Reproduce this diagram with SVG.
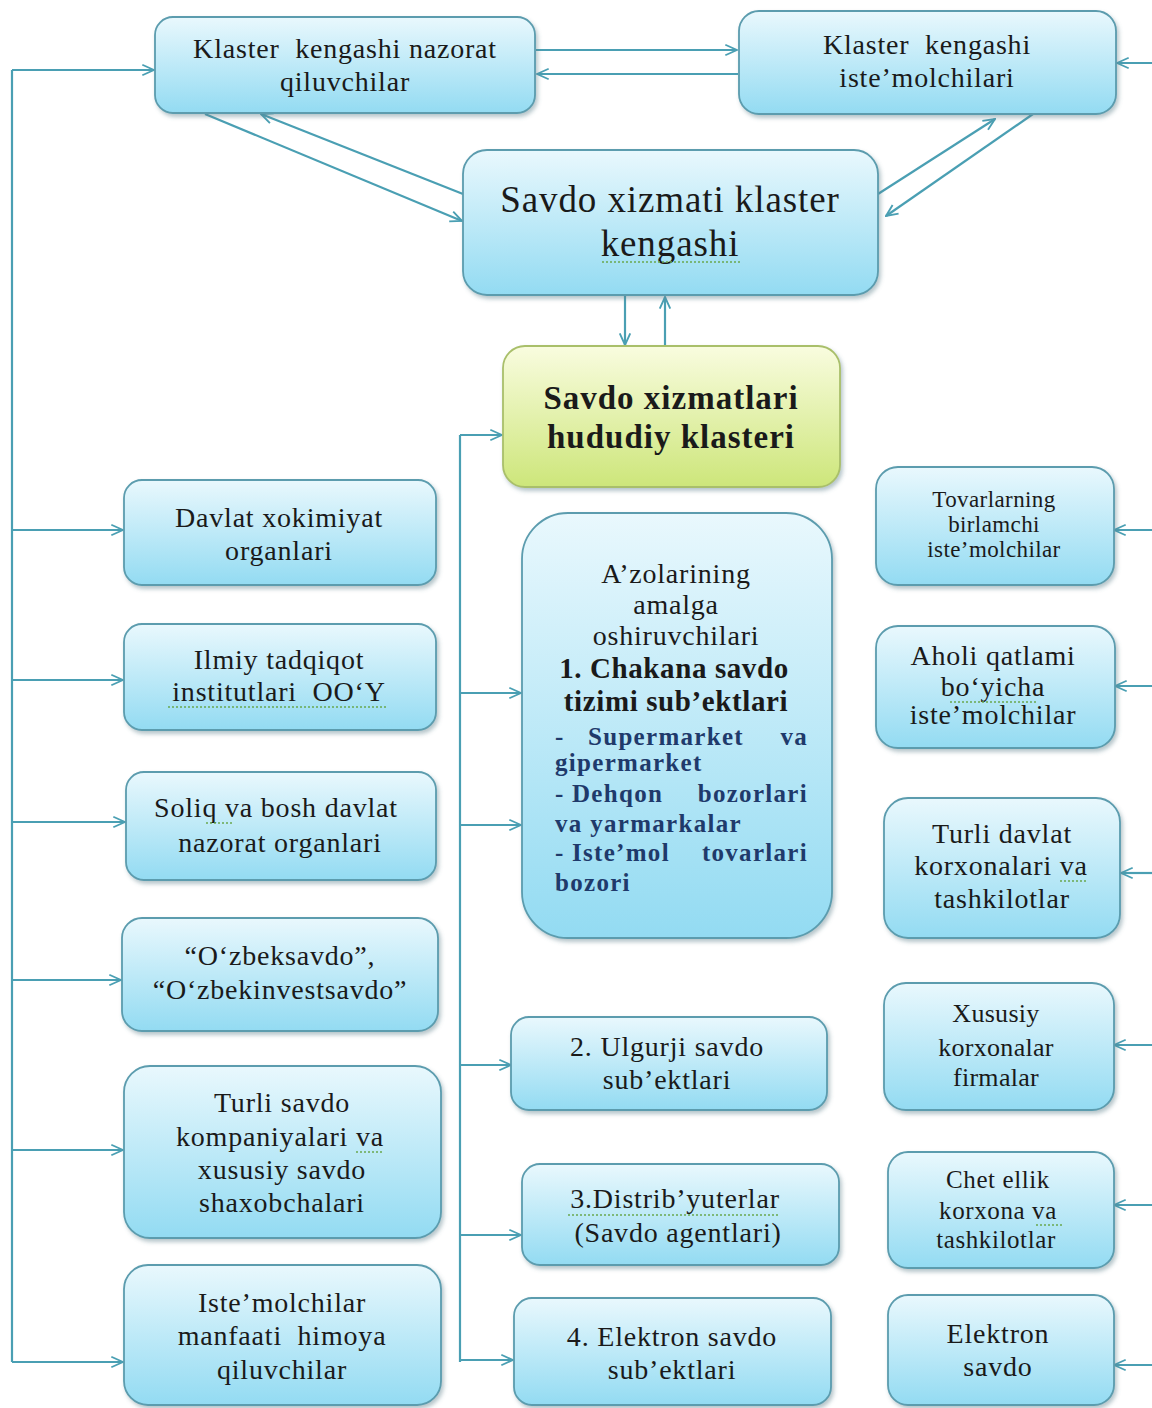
<svg xmlns="http://www.w3.org/2000/svg" width="1152" height="1408" viewBox="0 0 1152 1408">
<defs>
<linearGradient id="gb" x1="0" y1="0" x2="0" y2="1">
<stop offset="0" stop-color="#e9f8fd"/><stop offset="1" stop-color="#93dbf2"/>
</linearGradient>
<linearGradient id="gg" x1="0" y1="0" x2="0" y2="1">
<stop offset="0" stop-color="#f9fcdf"/><stop offset="1" stop-color="#cde67a"/>
</linearGradient>
<filter id="sh" x="-10%" y="-10%" width="125%" height="130%">
<feDropShadow dx="2" dy="3" stdDeviation="2.2" flood-color="#5a7f8a" flood-opacity="0.45"/>
</filter>
<marker id="a" viewBox="0 0 12 12" refX="11" refY="6" markerWidth="14" markerHeight="14" orient="auto" markerUnits="userSpaceOnUse">
<path d="M1,1.5 L11,6 L1,10.5" fill="none" stroke="#4a9fb3" stroke-width="1.6"/>
</marker>
</defs>
<style>
.b{fill:url(#gb);stroke:#5b9cae;stroke-width:1.8;filter:url(#sh)}
.g{fill:url(#gg);stroke:#a9bf6a;stroke-width:1.8;filter:url(#sh)}
text{font-family:"Liberation Serif","Times New Roman",serif;fill:#1a1a1a;text-anchor:middle}
.t{font-size:28px;letter-spacing:0.8px}
.s{font-size:23px;letter-spacing:0.4px}
.m{font-size:25px;letter-spacing:0.6px}
.x{font-size:26px;letter-spacing:0.3px}
.big{font-size:37px;letter-spacing:0.9px}
.bb{font-size:33px;font-weight:bold;letter-spacing:1px}
.cb{font-size:29px;font-weight:bold;letter-spacing:0.6px}
.bl{font-size:25px;font-weight:bold;fill:#1f3a6b;text-anchor:start;letter-spacing:1.3px}
.e{text-anchor:end}
.c line{stroke:#4a9fb3;stroke-width:2.2;fill:none}
.ar{marker-end:url(#a)}
.u{stroke:#6aa84f;stroke-width:1.5;stroke-dasharray:2 2;fill:none}
</style>
<rect width="1152" height="1408" fill="#ffffff"/>

<g class="c" id="connectors">
<line x1="12" y1="70" x2="12" y2="1362"/>
<line class="ar" x1="12" y1="70" x2="154" y2="70"/>
<line class="ar" x1="12" y1="530" x2="123" y2="530"/>
<line class="ar" x1="12" y1="680" x2="123" y2="680"/>
<line class="ar" x1="12" y1="822" x2="125" y2="822"/>
<line class="ar" x1="12" y1="980" x2="121" y2="980"/>
<line class="ar" x1="12" y1="1150" x2="123" y2="1150"/>
<line class="ar" x1="12" y1="1362" x2="123" y2="1362"/>
<line class="ar" x1="536" y1="50" x2="737" y2="50"/>
<line class="ar" x1="738" y1="74" x2="537" y2="74"/>
<line class="ar" x1="1152" y1="63" x2="1117" y2="63"/>
<line class="ar" x1="205" y1="114" x2="462" y2="221"/>
<line class="ar" x1="463" y1="194" x2="261" y2="114"/>
<line class="ar" x1="878" y1="194" x2="995" y2="119"/>
<line class="ar" x1="1033" y1="114" x2="886" y2="216"/>
<line class="ar" x1="625" y1="295" x2="625" y2="345"/>
<line class="ar" x1="665" y1="346" x2="665" y2="297"/>
<line x1="460" y1="435" x2="460" y2="1362"/>
<line class="ar" x1="460" y1="435" x2="502" y2="435"/>
<line class="ar" x1="460" y1="693" x2="521" y2="693"/>
<line class="ar" x1="460" y1="825" x2="521" y2="825"/>
<line class="ar" x1="460" y1="1065" x2="511" y2="1065"/>
<line class="ar" x1="460" y1="1235" x2="521" y2="1235"/>
<line class="ar" x1="460" y1="1360" x2="513" y2="1360"/>
<line class="ar" x1="1152" y1="530" x2="1114" y2="530"/>
<line class="ar" x1="1152" y1="686" x2="1115" y2="686"/>
<line class="ar" x1="1152" y1="873" x2="1121" y2="873"/>
<line class="ar" x1="1152" y1="1045" x2="1114" y2="1045"/>
<line class="ar" x1="1152" y1="1205" x2="1114" y2="1205"/>
<line class="ar" x1="1152" y1="1365" x2="1114" y2="1365"/>
</g>

<g id="n-nazorat"><rect class="b" x="155" y="17" width="380" height="96" rx="18"/>
<text class="t" x="345" y="58" xml:space="preserve">Klaster  kengashi nazorat</text><text class="t" x="345" y="91">qiluvchilar</text></g>

<g id="n-istemolchilari"><rect class="b" x="739" y="11" width="377" height="103" rx="20"/>
<text class="t" x="927" y="54" xml:space="preserve">Klaster  kengashi</text><text class="t" x="927" y="87">iste’molchilari</text></g>

<g id="n-kengash"><rect class="b" x="463" y="150" width="415" height="145" rx="24"/>
<text class="big" x="670" y="212">Savdo xizmati klaster</text><text class="big" x="670" y="256">kengashi</text>
<path class="u" d="M602,262 H740"/></g>

<g id="n-hududiy"><rect class="g" x="503" y="346" width="337" height="141" rx="22"/>
<text class="bb" x="671" y="409">Savdo xizmatlari</text><text class="bb" x="671" y="448">hududiy klasteri</text></g>

<g id="n-azolar"><rect class="b" x="522" y="513" width="310" height="425" rx="46"/>
<text class="t" x="676" y="583">A’zolarining</text>
<text class="t" x="676" y="614">amalga</text>
<text class="t" x="676" y="645">oshiruvchilari</text>
<text class="cb" x="674" y="678">1. Chakana savdo</text>
<text class="cb" x="676" y="711">tizimi sub’ektlari</text>
<text class="bl"><tspan x="555" y="745">-</tspan><tspan x="588" y="745">Supermarket</tspan><tspan class="e" x="808" y="745">va</tspan><tspan x="555" y="771">gipermarket</tspan><tspan x="555" y="802">-</tspan><tspan x="572" y="802">Dehqon</tspan><tspan class="e" x="808" y="802">bozorlari</tspan><tspan x="555" y="832">va yarmarkalar</tspan><tspan x="555" y="861">-</tspan><tspan x="572" y="861">Iste’mol</tspan><tspan class="e" x="808" y="861">tovarlari</tspan><tspan x="555" y="891">bozori</tspan></text></g>

<g id="n-davlat"><rect class="b" x="124" y="480" width="312" height="105" rx="18"/>
<text class="t" x="279" y="527">Davlat xokimiyat</text><text class="t" x="279" y="560">organlari</text></g>

<g id="n-ilmiy"><rect class="b" x="124" y="624" width="312" height="106" rx="18"/>
<text class="t" x="279" y="669">Ilmiy tadqiqot</text><text class="t" x="279" y="701" xml:space="preserve">institutlari  OO‘Y</text>
<path class="u" d="M168,707 H388"/></g>

<g id="n-soliq"><rect class="b" x="126" y="772" width="310" height="108" rx="18"/>
<text class="t" x="276" y="817">Soliq va bosh davlat</text><text class="t" x="280" y="852">nazorat organlari</text>
<path class="u" d="M206,823 H232"/></g>

<g id="n-ozbek"><rect class="b" x="122" y="918" width="316" height="113" rx="20"/>
<text class="t" x="280" y="965">“O‘zbeksavdo”,</text><text class="t" x="280" y="999">“O‘zbekinvestsavdo”</text></g>

<g id="n-turli-savdo"><rect class="b" x="124" y="1066" width="317" height="172" rx="26"/>
<text class="t" x="282" y="1112">Turli savdo</text><text class="t" x="280" y="1146">kompaniyalari va</text>
<text class="t" x="282" y="1179">xususiy savdo</text><text class="t" x="282" y="1212">shaxobchalari</text>
<path class="u" d="M356,1152 H384"/></g>

<g id="n-himoya"><rect class="b" x="124" y="1265" width="317" height="140" rx="24"/>
<text class="t" x="282" y="1312">Iste’molchilar</text><text class="t" x="282" y="1345" xml:space="preserve">manfaati  himoya</text><text class="t" x="282" y="1379">qiluvchilar</text></g>

<g id="n-ulgurji"><rect class="b" x="511" y="1017" width="316" height="93" rx="18"/>
<text class="t" x="667" y="1056">2. Ulgurji savdo</text><text class="t" x="667" y="1089">sub’ektlari</text></g>

<g id="n-distrib"><rect class="b" x="522" y="1164" width="317" height="101" rx="18"/>
<text class="t" x="675" y="1208">3.Distrib’yuterlar</text><text class="t" x="678" y="1242">(Savdo agentlari)</text>
<path class="u" d="M568,1215 H778"/></g>

<g id="n-elektron-sub"><rect class="b" x="514" y="1298" width="317" height="107" rx="18"/>
<text class="t" x="672" y="1346">4. Elektron savdo</text><text class="t" x="672" y="1379">sub’ektlari</text></g>

<g id="n-tovarlar"><rect class="b" x="876" y="467" width="238" height="118" rx="22"/>
<text class="s" x="994" y="507">Tovarlarning</text><text class="s" x="994" y="532">birlamchi</text><text class="s" x="994" y="557">iste’molchilar</text></g>

<g id="n-aholi"><rect class="b" x="876" y="626" width="239" height="122" rx="22"/>
<text class="t" x="993" y="665">Aholi qatlami</text><text class="t" x="993" y="696">bo‘yicha</text><text class="t" x="993" y="724">iste’molchilar</text>
<path class="u" d="M950,702 H1038"/></g>

<g id="n-turli-davlat"><rect class="b" x="884" y="798" width="236" height="140" rx="24"/>
<text class="t" x="1002" y="843">Turli davlat</text><text class="t" x="1001" y="875">korxonalari va</text><text class="t" x="1002" y="908">tashkilotlar</text>
<path class="u" d="M1060,881 H1088"/></g>

<g id="n-xususiy"><rect class="b" x="884" y="983" width="230" height="127" rx="22"/>
<text class="x" x="996" y="1022">Xususiy</text><text class="x" x="996" y="1056">korxonalar</text><text class="x" x="996" y="1086">firmalar</text></g>

<g id="n-chet"><rect class="b" x="888" y="1152" width="226" height="116" rx="20"/>
<text class="m" x="998" y="1188">Chet ellik</text><text class="m" x="998" y="1219">korxona va</text><text class="m" x="996" y="1248">tashkilotlar</text>
<path class="u" d="M1036,1225 H1062"/></g>

<g id="n-elektron"><rect class="b" x="888" y="1295" width="226" height="110" rx="20"/>
<text class="t" x="998" y="1343">Elektron</text><text class="t" x="998" y="1376">savdo</text></g>
</svg>
